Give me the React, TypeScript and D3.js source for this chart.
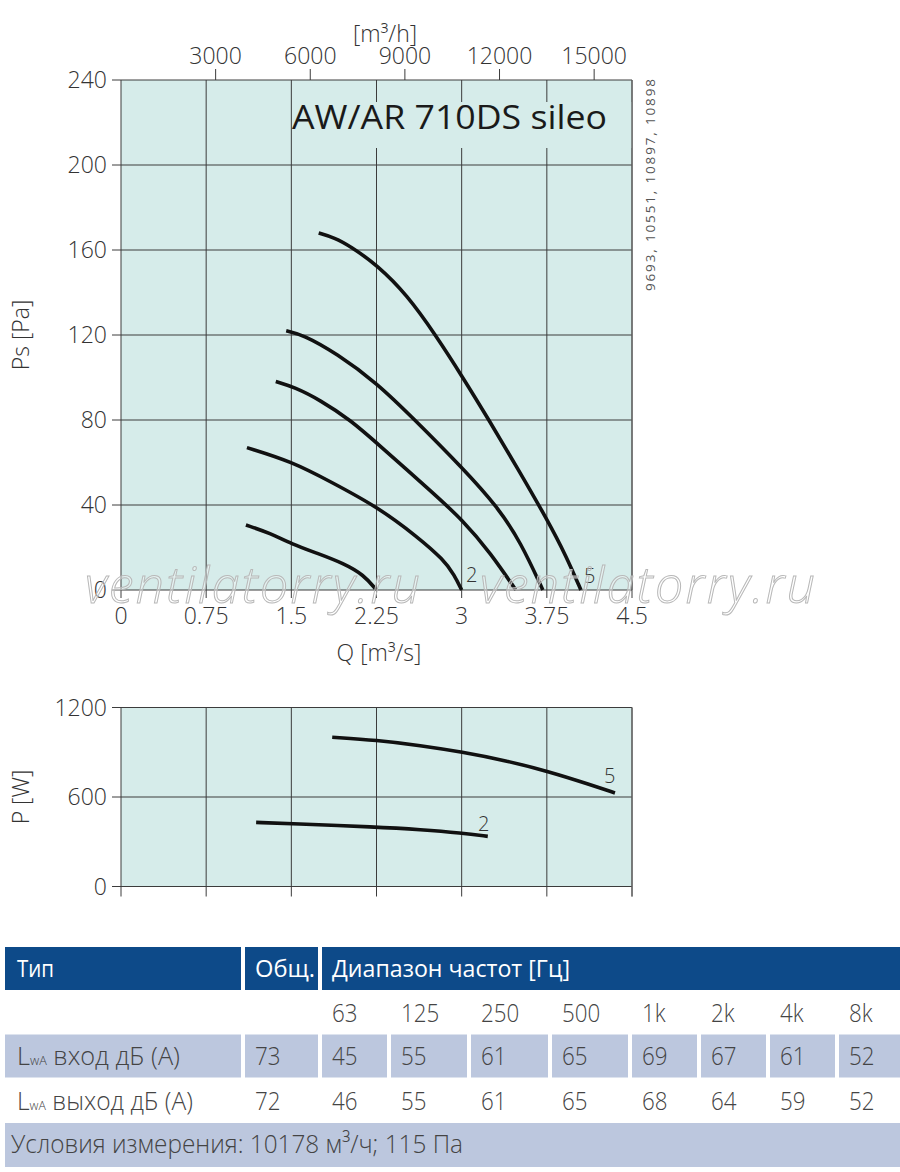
import * as d3 from 'd3';

// ---- chart data ----
const qTicks = [0, 0.75, 1.5, 2.25, 3, 3.75, 4.5];
const qTickLabels = ['0', '0.75', '1.5', '2.25', '3', '3.75', '4.5'];
const flowTicks = [3000, 6000, 9000, 12000, 15000];
const psTicks = [0, 40, 80, 120, 160, 200, 240];
const pTicks = [0, 600, 1200];

// static pressure curves, Q [m3/s] vs Ps [Pa]
const ps1Q = [1.10, 1.315, 1.506, 1.727, 1.962, 2.138, 2.25];
const ps1Val = [30.6, 26.7, 21.6, 17.3, 12.5, 7.1, 0];
const ps2Q = [1.109, 1.506, 1.844, 2.256, 2.609, 2.844, 2.934, 3.0];
const ps2Val = [67, 60.4, 51, 39.2, 25.1, 14.1, 7.1, 0];
const ps3Q = [1.363, 1.53, 1.75, 2.02, 2.256, 2.724, 3.01, 3.256, 3.477];
const ps3Val = [98.1, 95.4, 89.5, 80, 69, 46.8, 32.9, 17.3, 0];
const ps4Q = [1.455, 1.60, 1.90, 2.256, 2.57, 3.01, 3.315, 3.52, 3.715];
const ps4Val = [122, 120.2, 111.3, 97.3, 81, 57.3, 39.2, 22.5, 0];
const ps5Q = [1.741, 1.88, 2.02, 2.256, 2.52, 2.77, 3.006, 3.24, 3.49, 3.756, 3.92, 4.05];
const ps5Val = [168, 165.8, 161.8, 152.9, 138.8, 120, 100.4, 80, 57.5, 32.9, 16, 0];

// power curves, Q [m3/s] vs P [W]
const p2Q = [1.19, 1.5, 2.25, 2.64, 3.0, 3.23];
const p2Val = [430, 421, 399, 381, 358, 336];
const p5Q = [1.86, 2.25, 2.64, 3.0, 3.39, 3.76, 4.13, 4.35];
const p5Val = [1001, 981, 945, 902, 844, 772, 683, 627];

// ---- sound table ----
const freqLabels = ['63', '125', '250', '500', '1k', '2k', '4k', '8k'];
const inletTotal = '73';
const inletValues = [45, 55, 61, 65, 69, 67, 61, 52];
const outletTotal = '72';
const outletValues = [46, 55, 61, 65, 68, 64, 59, 52];

const W = 900;
const H = 1172;
const plotBg = '#d6ecea';
const gridColor = '#3c3c3c';
const textColor = '#333';
const font = "'Open Sans', 'Noto Sans', sans-serif";
const blue = '#0d4a89';
const cellBg = '#bcc7de';

const x = d3.scaleLinear().domain([0, 4.5]).range([121, 632]);
const yPs = d3.scaleLinear().domain([0, 240]).range([590, 80]);
const yP = d3.scaleLinear().domain([0, 1200]).range([886.5, 707.5]);

function curvePath(qs: number[], vals: number[], y: d3.ScaleLinear<number, number>) {
  const pts = qs.map((q, i) => [q, vals[i]] as [number, number]);
  return d3.line<[number, number]>()
    .x(d => x(d[0]))
    .y(d => y(d[1]))
    .curve(d3.curveBasis)(pts) ?? '';
}

const psCurves = [
  curvePath(ps1Q, ps1Val, yPs),
  curvePath(ps2Q, ps2Val, yPs),
  curvePath(ps3Q, ps3Val, yPs),
  curvePath(ps4Q, ps4Val, yPs),
  curvePath(ps5Q, ps5Val, yPs),
];
const pCurves = [curvePath(p2Q, p2Val, yP), curvePath(p5Q, p5Val, yP)];

// table column boxes [x0, x1]
const colType: [number, number] = [5, 241];
const colTotal: [number, number] = [245, 318];
const freqCols: [number, number][] = [
  [322, 387], [391, 467], [471, 548], [552, 628],
  [632, 697], [701, 766], [770, 835], [839, 900],
];

function CText({ x0, y0, size, children, fill = '#444', weight = 300, sx = 0.86, len }:
  { x0: number; y0: number; size: number; children: any; fill?: string; weight?: number; sx?: number; len?: number }) {
  if (len) {
    return (
      <text x={x0} y={y0} fontSize={size} fontFamily={font} fontWeight={weight} fill={fill}
        textLength={len} lengthAdjust="spacingAndGlyphs">
        {children}
      </text>
    );
  }
  return (
    <text transform={`translate(${x0},${y0}) scale(${sx},1)`} fontSize={size}
      fontFamily={font} fontWeight={weight} fill={fill}>
      {children}
    </text>
  );
}

export default function App() {
  const x0 = x(0);
  const x1 = x(4.5);
  return (
    <div style={{ position: 'absolute', left: 0, top: 0 }}>
      <svg width={W} height={H} viewBox={`0 0 ${W} ${H}`} style={{ display: 'block', background: '#fff' }}>
        {/* ===== Ps chart ===== */}
        <rect x={x0} y={yPs(240)} width={x1 - x0} height={yPs(0) - yPs(240)} fill={plotBg} />
        {psTicks.map(t => (
          <line key={'hg' + t} x1={x0 - 9} x2={x1} y1={yPs(t)} y2={yPs(t)} stroke={gridColor} strokeWidth={1} />
        ))}
        {qTicks.map(t => (
          <line key={'vg' + t} x1={x(t)} x2={x(t)} y1={yPs(240)} y2={yPs(0) + 8} stroke={gridColor} strokeWidth={1} />
        ))}
        {flowTicks.map(t => (
          <line key={'ft' + t} x1={x(t / 3600)} x2={x(t / 3600)} y1={yPs(240) - 11} y2={yPs(240)} stroke={gridColor} strokeWidth={1} />
        ))}
        {/* title box hides the grid behind the caption */}
        <rect x={x(1.5) + 1.5} y={102} width={x1 - x(1.5) - 2} height={46} fill={plotBg} />
        <text x={292} y={129} fontSize={32} fontFamily={font} fill="#1a1a1a" textLength={315} lengthAdjust="spacingAndGlyphs">
          AW/AR 710DS sileo
        </text>
        <line x1={x1} x2={x1} y1={yPs(240)} y2={yPs(0)} stroke="#666" strokeWidth={1.2} />

        {psCurves.map((d, i) => (
          <path key={'ps' + i} d={d} fill="none" stroke="#111" strokeWidth={3.6} strokeLinecap="butt" />
        ))}
        <text x={466} y={582} fontSize={20} fontFamily={font} fontWeight={300} fill={textColor}>2</text>
        <text x={584} y={583} fontSize={20} fontFamily={font} fontWeight={300} fill={textColor}>5</text>

        {psTicks.map(t => (
          <text key={'pl' + t} x={107} y={yPs(t) + 8} textAnchor="end" fontSize={23} fontFamily={font} fontWeight={300} fill={textColor}>{t}</text>
        ))}
        {qTicks.map((t, i) => (
          <text key={'ql' + t} x={x(t)} y={624} textAnchor="middle" fontSize={23} fontFamily={font} fontWeight={300} fill={textColor}>{qTickLabels[i]}</text>
        ))}
        {flowTicks.map(t => (
          <text key={'fl' + t} x={x(t / 3600)} y={64} textAnchor="middle" fontSize={23} fontFamily={font} fontWeight={300} fill={textColor}>{t}</text>
        ))}
        <text x={385} y={42} textAnchor="middle" fontSize={23} fontFamily={font} fontWeight={300} fill={textColor}>[m³/h]</text>
        <text x={379} y={661} textAnchor="middle" fontSize={23} fontFamily={font} fontWeight={300} fill={textColor}>Q [m³/s]</text>
        <text transform="translate(29,335) rotate(-90)" textAnchor="middle" fontSize={23} fontFamily={font} fontWeight={300} fill={textColor}>Ps [Pa]</text>
        <text transform="translate(655,291) rotate(-90)" fontSize={13.5} fontFamily={font} fill="#555" textLength={212}>9693, 10551, 10897, 10898</text>

        {/* watermark */}
        {[85, 480].map(wx => (
          <text key={'wm' + wx} x={wx} y={603} fontSize={50} fontStyle="italic" fontWeight={200} fontFamily={font}
            fill="#ffffff" fillOpacity={0.35} stroke="#b8b8b8" strokeWidth={1} textLength={335}>ventilatorry.ru</text>
        ))}

        {/* ===== P chart ===== */}
        <rect x={x0} y={yP(1200)} width={x1 - x0} height={yP(0) - yP(1200)} fill={plotBg} />
        {pTicks.map(t => (
          <line key={'phg' + t} x1={x0 - 9} x2={x1} y1={yP(t)} y2={yP(t)} stroke={gridColor} strokeWidth={1} />
        ))}
        {qTicks.map(t => (
          <line key={'pvg' + t} x1={x(t)} x2={x(t)} y1={yP(1200)} y2={yP(0) + 10} stroke={gridColor} strokeWidth={1} />
        ))}
        <line x1={x1} x2={x1} y1={yP(1200)} y2={yP(0) + 10} stroke="#666" strokeWidth={1.2} />
        {pCurves.map((d, i) => (
          <path key={'p' + i} d={d} fill="none" stroke="#111" strokeWidth={3.6} />
        ))}
        <text x={478} y={831} fontSize={20} fontFamily={font} fontWeight={300} fill={textColor}>2</text>
        <text x={604} y={783} fontSize={20} fontFamily={font} fontWeight={300} fill={textColor}>5</text>
        {pTicks.map(t => (
          <text key={'ptl' + t} x={107} y={yP(t) + 8} textAnchor="end" fontSize={23} fontFamily={font} fontWeight={300} fill={textColor}>{t}</text>
        ))}
        <text transform="translate(29,797) rotate(-90)" textAnchor="middle" fontSize={23} fontFamily={font} fontWeight={300} fill={textColor}>P [W]</text>

        {/* ===== sound table ===== */}
        <rect x={colType[0]} y={947} width={colType[1] - colType[0]} height={43} fill={blue} />
        <rect x={colTotal[0]} y={947} width={colTotal[1] - colTotal[0]} height={43} fill={blue} />
        <rect x={322} y={947} width={900 - 322} height={43} fill={blue} />
        <CText x0={17} y0={977} size={24} fill="#fff" weight={500} len={37}>Тип</CText>
        <CText x0={255} y0={977} size={24} fill="#fff" weight={500} len={60}>Общ.</CText>
        <CText x0={332} y0={977} size={24} fill="#fff" weight={500} len={238}>Диапазон частот [Гц]</CText>

        {freqLabels.map((f, i) => (
          <CText key={'fq' + f} x0={freqCols[i][0] + 10} y0={1022} size={26}>{f}</CText>
        ))}

        {[colType, colTotal, ...freqCols].map((c, i) => (
          <rect key={'cb' + i} x={c[0]} y={1034.5} width={c[1] - c[0]} height={43} fill={cellBg} />
        ))}
        <CText x0={17} y0={1065} size={26} len={163}>L<tspan fontSize={13}>wA</tspan> вход дБ (А)</CText>
        <CText x0={255} y0={1065} size={26}>{inletTotal}</CText>
        {inletValues.map((v, i) => (
          <CText key={'in' + i} x0={freqCols[i][0] + 10} y0={1065} size={26}>{v}</CText>
        ))}

        <CText x0={17} y0={1110} size={26} len={176}>L<tspan fontSize={13}>wA</tspan> выход дБ (А)</CText>
        <CText x0={255} y0={1110} size={26}>{outletTotal}</CText>
        {outletValues.map((v, i) => (
          <CText key={'out' + i} x0={freqCols[i][0] + 10} y0={1110} size={26}>{v}</CText>
        ))}

        <rect x={5} y={1123} width={895} height={44} fill={cellBg} />
        <CText x0={11} y0={1153} size={26} len={452}>Условия измерения: 10178 м³/ч; 115 Па</CText>
      </svg>
    </div>
  );
}
